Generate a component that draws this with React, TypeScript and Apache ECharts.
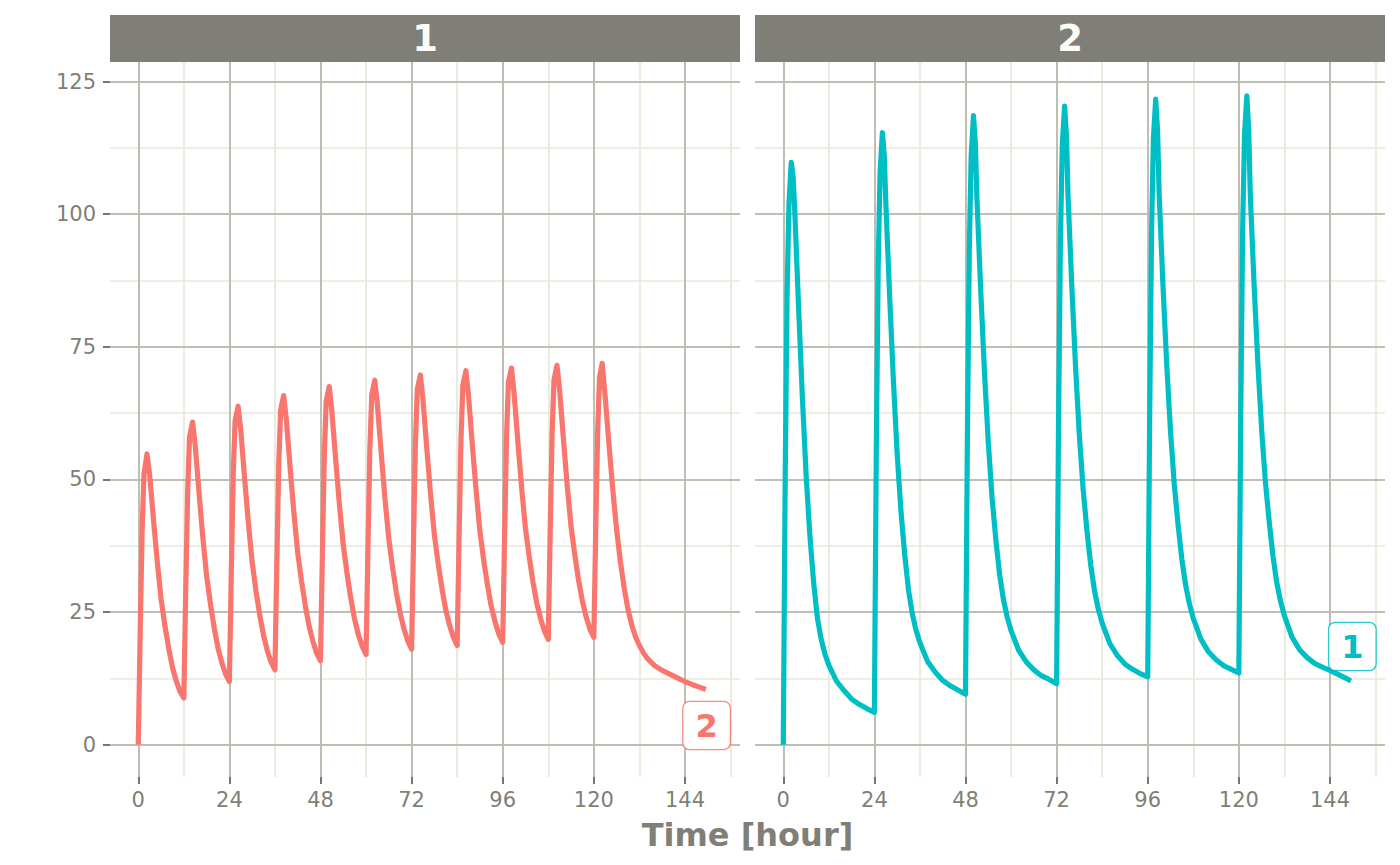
import React, { useEffect, useRef } from "react";
import * as echarts from "echarts";

// ---------- data ----------
const panelNames = ["1", "2"];
const xMajorTicks = [0, 24, 48, 72, 96, 120, 144];
const xMinorTicks = [12, 36, 60, 84, 108, 132, 156];
const yMajorTicks = [0, 25, 50, 75, 100, 125];
const yMinorTicks = [12.5, 37.5, 62.5, 87.5, 112.5];
const endLabels = ["2", "1"];
const endLabelPositions: [number, number][] = [
  [149.7, 3.6],
  [149.9, 18.5],
];
const axisTitle = "Time [hour]";

// panel 1: dosing every 12 h (time [h], concentration)
const q12hProfile: [number, number][] = [
  [0, 0], [0.5, 21], [1, 40], [1.5, 51], [2.3, 54.8], [3, 50.8], [4, 42.5], [5, 34.5], [6, 27.5], [7, 22.5], [8, 18.2], [9, 14.6], [10, 12.0], [11, 10.0],
  [12, 8.8], [12.5, 29.2], [13, 47.6], [13.5, 58.0], [14.3, 60.8], [15, 56.4], [16, 47.5], [17, 39.1], [18, 31.8], [19, 26.6], [20, 22.0], [21, 18.2], [22, 15.5], [23, 13.3],
  [24, 11.9], [24.5, 32.3], [25, 50.7], [25.5, 61.0], [26.3, 63.8], [27, 59.3], [28, 50.3], [29, 41.8], [30, 34.4], [31, 29.0], [32, 24.4], [33, 20.6], [34, 17.7], [35, 15.5],
  [36, 14.1], [36.5, 34.4], [37, 52.8], [37.5, 63.1], [38.3, 65.8], [39, 61.2], [40, 52.2], [41, 43.6], [42, 36.2], [43, 30.8], [44, 26.2], [45, 22.3], [46, 19.5], [47, 17.2],
  [48, 15.8], [48.5, 36.1], [49, 54.5], [49.5, 64.8], [50.3, 67.5], [51, 62.8], [52, 53.7], [53, 45.1], [54, 37.6], [55, 32.2], [56, 27.5], [57, 23.6], [58, 20.7], [59, 18.5],
  [60, 17.0], [60.5, 37.3], [61, 55.7], [61.5, 66.0], [62.3, 68.7], [63, 64.0], [64, 54.9], [65, 46.2], [66, 38.7], [67, 33.3], [68, 28.6], [69, 24.7], [70, 21.8], [71, 19.5],
  [72, 18.0], [72.5, 38.3], [73, 56.7], [73.5, 67.0], [74.3, 69.7], [75, 65.0], [76, 55.8], [77, 47.1], [78, 39.5], [79, 34.1], [80, 29.4], [81, 25.4], [82, 22.5], [83, 20.2],
  [84, 18.7], [84.5, 39.0], [85, 57.4], [85.5, 67.8], [86.3, 70.5], [87, 65.7], [88, 56.5], [89, 47.8], [90, 40.2], [91, 34.7], [92, 30.0], [93, 26.0], [94, 23.1], [95, 20.8],
  [96, 19.3], [96.5, 39.6], [97, 58.0], [97.5, 68.3], [98.3, 71.0], [99, 66.2], [100, 57.0], [101, 48.3], [102, 40.7], [103, 35.3], [104, 30.5], [105, 26.6], [106, 23.7], [107, 21.4],
  [108, 19.85], [108.5, 40.2], [109, 58.5], [109.5, 68.8], [110.3, 71.5], [111, 66.7], [112, 57.5], [113, 48.7], [114, 41.1], [115, 35.7], [116, 30.9], [117, 27.0], [118, 24.0], [119, 21.7],
  [120, 20.2], [120.5, 40.5], [121, 58.8], [121.5, 69.2], [122.2, 71.9], [123, 65.5], [124, 56.5], [125, 48], [126, 40.5], [127, 34.5], [128, 29.5], [129, 25.5], [130, 22.5], [131, 20.3],
  [132, 18.7], [133, 17.4], [134, 16.3], [136, 14.9], [138, 14.0], [140, 13.3], [142, 12.6], [144, 11.9], [146, 11.3], [148, 10.8], [149.5, 10.4],
];

// panel 2: dosing every 24 h (time [h], concentration)
const q24hProfile: [number, number][] = [
  [0, 0], [0.5, 50], [1, 85], [1.5, 102], [2.1, 109.8], [2.6, 107], [3, 101], [4, 83], [5, 66], [6, 51], [7, 39.5], [8, 30.5], [9, 23.8], [10, 19.8], [11, 17], [12, 15], [14, 12], [16, 10.2], [18, 8.6], [20, 7.6], [22, 6.8],
  [24, 6.1], [24.5, 55.4], [25, 90.4], [25.5, 107.9], [26.1, 115.4], [26.6, 111.1], [27, 102.4], [28, 84.8], [29, 68.7], [30, 54.8], [31, 44.0], [32, 35.7], [33, 29.1], [34, 24.6], [35, 21.5], [36, 19.2], [38, 15.7], [40, 13.7], [42, 12.1], [44, 11.1], [46, 10.3],
  [48, 9.5], [48.5, 58.4], [49, 93.4], [49.5, 111.1], [50.1, 118.6], [50.6, 113.3], [51, 103.1], [52, 85.8], [53, 70.2], [54, 57.0], [55, 46.5], [56, 38.6], [57, 32.0], [58, 27.3], [59, 24.0], [60, 21.5], [62, 17.8], [64, 15.6], [66, 14.1], [68, 13.0], [70, 12.3],
  [72, 11.5], [72.5, 60.2], [73, 95.2], [73.5, 113.1], [74.1, 120.4], [74.6, 114.7], [75, 103.6], [76, 86.4], [77, 71.1], [78, 58.2], [79, 48.0], [80, 40.3], [81, 33.8], [82, 28.9], [83, 25.5], [84, 22.9], [86, 19.1], [88, 16.8], [90, 15.2], [92, 14.2], [94, 13.4],
  [96, 12.8], [96.5, 61.4], [97, 96.4], [97.5, 114.4], [98.1, 121.7], [98.6, 115.6], [99, 103.9], [100, 86.8], [101, 71.7], [102, 59.1], [103, 49.0], [104, 41.4], [105, 34.9], [106, 30.0], [107, 26.5], [108, 23.8], [110, 19.9], [112, 17.5], [114, 16.0], [116, 14.9], [118, 14.2],
  [120, 13.5], [120.5, 62], [121, 97], [121.5, 115], [122.1, 122.3], [122.6, 116], [123, 104], [124, 87], [125, 72], [126, 59.5], [127, 49.5], [128, 42], [129, 35.5], [130, 30.5], [131, 27], [132, 24.3], [134, 20.3], [136, 17.9], [138, 16.4], [140, 15.3], [142, 14.6],
  [144, 14.0], [146, 13.3], [148, 12.6], [149.5, 12.0],
];

const profiles = [q12hProfile, q24hProfile];
const seriesColors = ["#F8766D", "#00BFC4"];
const labelBorders = ["rgba(248,118,109,0.85)", "rgba(0,191,196,0.85)"];

// ---------- styling ----------
const FONT = "DejaVu Sans";
const TEXT = "#7f7f76";
const TICK = "#77776e";
const MAJOR = "#bebeb3";
const MINOR = "#e7e7da";
const STRIP = "#7f7f77";
const PANELS = [
  { left: 110, top: 62, width: 630, height: 715 },
  { left: 755, top: 62, width: 630, height: 715 },
];

function gridLineSeries(i: number, major: boolean) {
  const xs = major ? xMajorTicks : xMinorTicks;
  const ys = major ? yMajorTicks : yMinorTicks;
  return {
    type: "line",
    xAxisIndex: i,
    yAxisIndex: i,
    data: [[0, 0]],
    showSymbol: false,
    symbol: "none",
    lineStyle: { opacity: 0, width: 0 },
    silent: true,
    z: major ? 2 : 1,
    markLine: {
      silent: true,
      animation: false,
      symbol: ["none", "none"],
      z: major ? 2 : 1,
      label: { show: false },
      emphasis: { disabled: true },
      lineStyle: { color: major ? MAJOR : MINOR, width: major ? 2 : 1.7, type: "solid" },
      data: [...xs.map((v) => ({ xAxis: v })), ...ys.map((v) => ({ yAxis: v }))],
    },
  };
}

export default function App() {
  const ref = useRef<HTMLDivElement>(null);

  useEffect(() => {
    if (!ref.current) return;
    const chart = echarts.init(ref.current, undefined, { renderer: "svg" });

    const series: any[] = [];
    [0, 1].forEach((i) => {
      series.push(gridLineSeries(i, false));
      series.push(gridLineSeries(i, true));
      series.push({
        type: "line",
        xAxisIndex: i,
        yAxisIndex: i,
        data: profiles[i],
        showSymbol: false,
        symbol: "none",
        silent: true,
        z: 3,
        lineStyle: { color: seriesColors[i], width: 5.2, cap: "butt", join: "round" },
      });
      series.push({
        type: "scatter",
        xAxisIndex: i,
        yAxisIndex: i,
        data: [endLabelPositions[i]],
        symbolSize: 1,
        silent: true,
        z: 10,
        itemStyle: { color: "rgba(0,0,0,0)", opacity: 1 },
        label: {
          show: true,
          position: "inside",
          formatter: endLabels[i],
          fontFamily: FONT,
          fontWeight: "bold",
          fontSize: 32,
          lineHeight: 32,
          color: seriesColors[i],
          opacity: 1,
          textBorderWidth: 0,
          textBorderColor: "transparent",
          backgroundColor: "#ffffff",
          borderColor: labelBorders[i],
          borderWidth: 1.3,
          borderRadius: 6,
          padding: [7, 12, 8, 12],
        },
      });
    });

    const graphics: any[] = [];
    PANELS.forEach((p, i) => {
      graphics.push({
        type: "rect",
        shape: { x: p.left, y: 15, width: p.width, height: 47 },
        style: { fill: STRIP },
        silent: true,
      });
      graphics.push({
        type: "text",
        x: p.left + p.width / 2,
        y: 38.5,
        style: {
          text: panelNames[i],
          fontFamily: FONT,
          fontWeight: "bold",
          fontSize: 37,
          fill: "#fcfcf4",
          align: "center",
          verticalAlign: "middle",
        },
        silent: true,
      });
    });
    graphics.push({
      type: "text",
      x: (PANELS[0].left + PANELS[1].left + PANELS[1].width) / 2,
      y: 835,
      style: {
        text: axisTitle,
        fontFamily: FONT,
        fontWeight: "bold",
        fontSize: 32,
        fill: TEXT,
        align: "center",
        verticalAlign: "middle",
      },
      silent: true,
    });

    const option: any = {
      animation: false,
      backgroundColor: "#ffffff",
      grid: PANELS.map((p) => ({ ...p, containLabel: false })),
      xAxis: [0, 1].map((i) => ({
        type: "value",
        gridIndex: i,
        min: -7.45,
        max: 158.5,
        axisLine: { show: false, onZero: false },
        splitLine: { show: false },
        axisTick: {
          show: true,
          customValues: xMajorTicks,
          length: 7,
          lineStyle: { color: TICK, width: 2 },
        },
        axisLabel: {
          show: true,
          customValues: xMajorTicks,
          fontFamily: FONT,
          fontSize: 21,
          color: TEXT,
          margin: 12,
        },
      })),
      yAxis: [0, 1].map((i) => ({
        type: "value",
        gridIndex: i,
        min: -6.1,
        max: 128.7,
        axisLine: { show: false, onZero: false },
        splitLine: { show: false },
        axisTick: {
          show: i === 0,
          customValues: yMajorTicks,
          length: 7,
          lineStyle: { color: TICK, width: 2 },
        },
        axisLabel: {
          show: i === 0,
          customValues: yMajorTicks,
          fontFamily: FONT,
          fontSize: 21,
          color: TEXT,
          margin: 14,
        },
      })),
      series,
      graphic: graphics,
    };

    chart.setOption(option);
    return () => {
      chart.dispose();
    };
  }, []);

  return (
    <div
      ref={ref}
      style={{ position: "fixed", left: 0, top: 0, width: 1400, height: 865, background: "#ffffff" }}
    />
  );
}
